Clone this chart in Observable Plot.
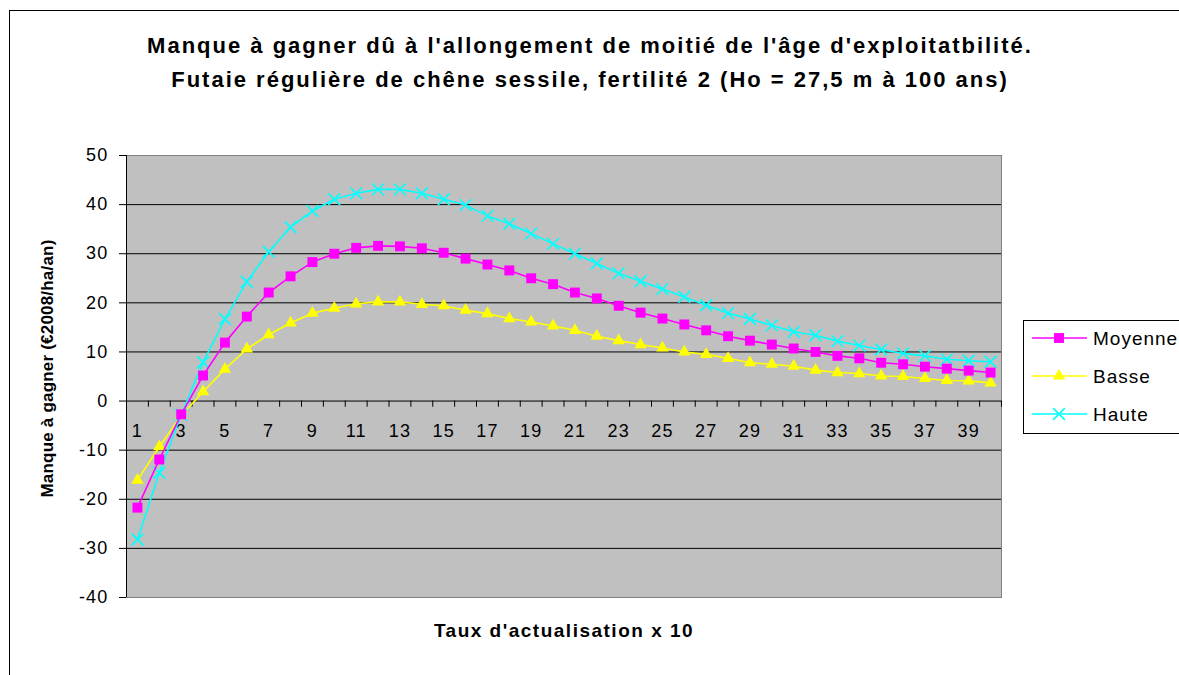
<!DOCTYPE html>
<html>
<head>
<meta charset="utf-8">
<script src="https://cdn.jsdelivr.net/npm/d3@7"></script>
<script src="https://cdn.jsdelivr.net/npm/@observablehq/plot@0.6"></script>
<style>
  html, body { margin: 0; padding: 0; background: #fff; overflow: hidden; }
  #wrap { position: relative; width: 1179px; height: 675px; overflow: hidden; font-family: "Liberation Sans", Arial, sans-serif; }
  #border { position: absolute; left: 9px; top: 10px; width: 1300px; height: 800px; border: 1px solid #000; pointer-events: none; }
  .title { position: absolute; left: 0; width: 1180px; text-align: center; font-weight: bold; font-size: 22px; letter-spacing: 2px; color: #000; white-space: nowrap; }
  #legend { position: absolute; left: 1023px; top: 320px; width: 300px; height: 112px; border: 1px solid #000; background: #fff; }
  #chart { position: absolute; left: 0; top: 0; }
</style>
</head>
<body>
<div id="wrap">
  <div id="chart"></div>
  <div class="title" style="top:33px">Manque à gagner dû à l'allongement de moitié de l'âge d'exploitatbilité.</div>
  <div class="title" style="top:67px">Futaie régulière de chêne sessile, fertilité 2 (Ho = 27,5 m à 100 ans)</div>
  <div id="legend"></div>
  <div id="border"></div>
</div>
<script>
// ---- Data ----
const categories = d3.range(1, 41);
const moyenne = [-21.7,-11.9,-2.7,5.2,11.9,17.2,22.1,25.4,28.3,30.0,31.2,31.6,31.5,31.1,30.2,29.0,27.8,26.6,25.0,23.8,22.1,20.9,19.4,18.0,16.8,15.6,14.4,13.2,12.3,11.5,10.7,10.0,9.2,8.7,7.8,7.5,7.0,6.6,6.2,5.8];
const basse = [-16.1,-9.3,-3.0,1.9,6.5,10.6,13.5,15.9,17.9,18.9,19.8,20.2,20.2,19.7,19.4,18.5,17.8,16.8,16.1,15.3,14.4,13.2,12.3,11.5,10.8,10.0,9.5,8.7,7.8,7.5,7.1,6.3,5.8,5.6,5.1,5.0,4.6,4.2,4.1,3.7];
const haute = [-28.2,-14.6,-2.8,7.9,16.7,24.3,30.4,35.4,38.7,41.1,42.3,43.1,43.1,42.3,41.1,39.9,37.7,36.1,34.1,32.0,30.0,28.0,26.0,24.4,22.8,21.2,19.5,17.9,16.7,15.4,14.1,13.4,12.2,11.3,10.5,9.7,9.2,8.5,8.2,8.0];
const seriesNames = ["Moyenne", "Basse", "Haute"];
const yTicks = d3.range(-40, 51, 10);
const xTickLabels = d3.range(1, 41, 2);
const yTitle = "Manque à gagner (€2008/ha/an)";
const xTitle = "Taux d'actualisation x 10";

// ---- Styles ----
const FONT = "Liberation Sans, Arial, sans-serif";
const styles = {
  Moyenne: {color: "#FF00FF", symbol: "square", r: 5.6, fill: true},
  Basse:   {color: "#FFFF00", symbol: "triangle", r: 4.6, fill: true},
  Haute:   {color: "#00FFFF", symbol: "times", r: 5.4, fill: false}
};

const valuesBy = {Moyenne: moyenne, Basse: basse, Haute: haute};
const rows = seriesNames.flatMap(s => categories.map((c, i) => ({series: s, x: c, y: valuesBy[s][i]})));
const boundaries = d3.range(0.5, 41, 1);

const marks = [
  Plot.frame({fill: "#C0C0C0", stroke: "#808080"}),
  Plot.ruleY(yTicks.filter(v => v > -40 && v < 50), {stroke: "#000", strokeWidth: 1}),
  Plot.ruleX(boundaries, {y1: 0, y2: -1.25, stroke: "#000", strokeWidth: 1}),
  Plot.ruleX([0.5], {stroke: "#000", strokeWidth: 1}),
  Plot.text(xTickLabels, {x: d => d, y: 0, dy: 30, text: d => String(d), fontSize: 18, fill: "#000", fontFamily: FONT}),
  Plot.axisY({ticks: yTicks, tickSize: 7, tickPadding: 11, fontSize: 18, tickFormat: d => String(d), label: null, fontFamily: FONT}),
  Plot.text([yTitle], {frameAnchor: "left", textAnchor: "middle", dx: -79, dy: -8, rotate: -90, text: d => d, fontSize: 17, fontWeight: "bold", fill: "#000", fontFamily: FONT}),
  Plot.text([xTitle], {frameAnchor: "bottom", dy: 39, text: d => d, fontSize: 19, fontWeight: "bold", fill: "#000", fontFamily: FONT})
];
for (const s of ["Basse", "Haute", "Moyenne"]) {
  const st = styles[s];
  const data = rows.filter(d => d.series === s);
  marks.push(Plot.line(data, {x: "x", y: "y", stroke: st.color, strokeWidth: 1.6}));
  marks.push(Plot.dot(data, {x: "x", y: "y", symbol: st.symbol, r: st.r,
    fill: st.fill ? st.color : "none", stroke: st.color, strokeWidth: st.fill ? 0 : 1.6}));
}

const chart = Plot.plot({
  width: 1179,
  height: 675,
  marginLeft: 126,
  marginRight: 178,
  marginTop: 155,
  marginBottom: 78,
  style: {background: "transparent", color: "#000"},
  x: {type: "linear", domain: [0.5, 40.5], axis: null},
  y: {domain: [-40, 50]},
  marks
});
// letter spacing for tick labels and titles
d3.select(chart).selectAll("text").filter(function() { return /^-?\d+$/.test(this.textContent); }).style("letter-spacing", "1.2px");
d3.select(chart).selectAll("text").filter(function() { return this.textContent === xTitle; }).style("letter-spacing", "1.5px");
d3.select(chart).selectAll("text").filter(function() { return this.textContent === yTitle; }).style("letter-spacing", "0.2px");
document.getElementById("chart").appendChild(chart);

// ---- Legend ----
const leg = d3.select("#legend").append("svg").attr("width", 300).attr("height", 112);
const symMap = {square: d3.symbolSquare, triangle: d3.symbolTriangle, times: d3.symbolTimes};
seriesNames.forEach((s, i) => {
  const st = styles[s];
  const cy = 17 + i * 38;
  const g = leg.append("g");
  g.append("line").attr("x1", 8).attr("x2", 63).attr("y1", cy).attr("y2", cy).attr("stroke", st.color).attr("stroke-width", 1.6);
  g.append("path").attr("d", d3.symbol(symMap[st.symbol], Math.PI * st.r * st.r)())
    .attr("transform", `translate(35,${cy})`)
    .attr("fill", st.fill ? st.color : "none").attr("stroke", st.color).attr("stroke-width", st.fill ? 0 : 1.6);
  g.append("text").attr("x", 69).attr("y", cy + 7).attr("font-size", 19).attr("letter-spacing", "1px").attr("font-family", FONT).text(s);
});
</script>
</body>
</html>
